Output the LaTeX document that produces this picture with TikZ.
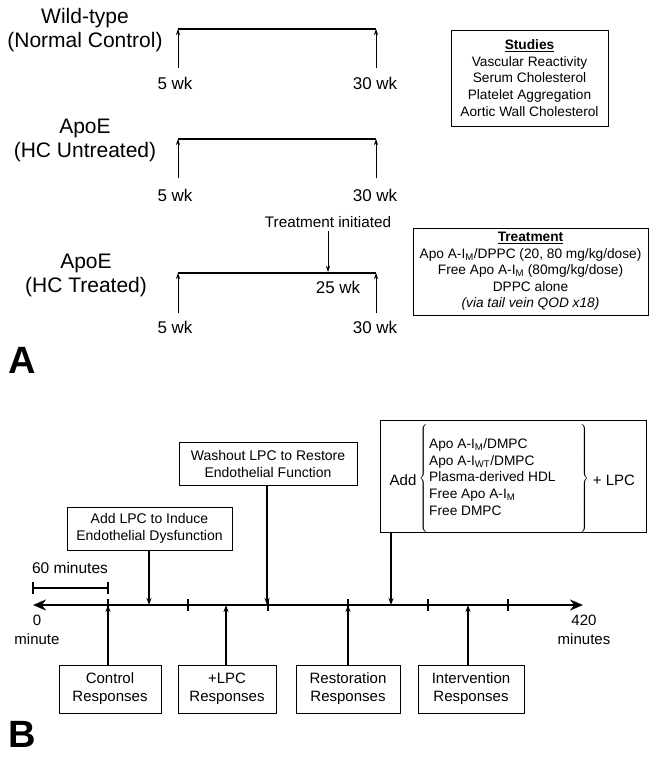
\documentclass[tikz,border=0pt]{standalone}
\usepackage{fontspec}
\setmainfont{Liberation Sans}
\usetikzlibrary{positioning,arrows.meta}

\begin{document}
\begin{tikzpicture}[x=1pt,y=-1pt,
    grp/.style={align=center,font=\fontsize{21}{24}\selectfont},
    wk/.style={font=\fontsize{17}{20}\selectfont},
    infobox/.style={draw,align=center,inner sep=0pt,
        font=\fontsize{13.7}{16.6}\selectfont},
    stepnote/.style={draw,align=center,inner sep=0pt,
        font=\fontsize{14}{17}\selectfont},
    resp/.style={draw,align=center,inner sep=0pt,minimum height=48pt,
        font=\fontsize{15}{18}\selectfont},
    period/.style={line width=1.4pt},
    thin arrow/.style={-{Stealth[length=6pt,width=4pt]},line width=0.7pt},
    event/.style={-{Stealth[length=7pt,width=5pt]},line width=1.4pt},
    axis/.style={{Stealth[length=13pt,width=11pt]}-{Stealth[length=13pt,width=11pt]},line width=2.6pt},
    curly/.style={inner sep=0pt,font=\fontsize{13.7}{16.6}\selectfont},
    panel/.style={inner sep=0pt,font=\fontsize{38}{38}\selectfont\bfseries}]
    \fill[white] (0,0) rectangle (654,757);
    \useasboundingbox (0,0) rectangle (654,757);

    % A: three groups of mice
    \node[grp] (wt) at (85,30) {Wild-type\\(Normal Control)};
    \node[grp] (hcu) at (85,140) {ApoE\\(HC Untreated)};
    \node[grp] (hct) at (86,275) {ApoE\\(HC Treated)};
    \foreach \n/\ly/\by/\ty in {1/29/68/83, 2/139/178/195, 3/273/313/327} {
        \coordinate (s\n) at (178,\ly);
        \coordinate (e\n) at (376,\ly);
        \coordinate (sb\n) at (178,\by);
        \coordinate (eb\n) at (376,\by);
        \draw[period] (s\n) -- (e\n);
        \draw[thin arrow] (sb\n) -- (s\n);
        \draw[thin arrow] (eb\n) -- (e\n);
        \node[wk] (five\n) at (175,\ty) {5 wk};
        \node[wk] (thirty\n) at (375,\ty) {30 wk};
    }
    \node[font=\fontsize{15.3}{18}\selectfont] (tinit) at (328,222) {Treatment initiated};
    \coordinate (w25) at (328,272);
    \draw[thin arrow] (tinit.south) -- (w25);
    \node[wk] (tw25) at (338,287) {25 wk};

    \node[infobox,minimum width=157pt,minimum height=96pt] (studies) at (529.5,78)
        {\underline{\textbf{Studies}}\\Vascular Reactivity\\Serum Cholesterol\\
         Platelet Aggregation\\Aortic Wall Cholesterol};
    \node[infobox,minimum width=235pt,minimum height=87pt] (treat) at (530.5,271.5)
        {\underline{\textbf{Treatment}}\\Apo A-I\textsubscript{M}/DPPC (20, 80 mg/kg/dose)\\
         Free Apo A-I\textsubscript{M} (80mg/kg/dose)\\DPPC alone\\
         \textit{(via tail vein QOD x18)}};
    \node[panel] (pa) at (22,360) {A};

    % B: the 420 minute protocol
    \coordinate (m0) at (33,605);
    \coordinate (m420) at (583,605);
    \coordinate (m60) at (108,605);
    \coordinate (m90) at (149,605);
    \coordinate (m150) at (226,605);
    \coordinate (m180) at (267,605);
    \coordinate (m240) at (348,605);
    \coordinate (m270) at (391,605);
    \coordinate (m330) at (468,605);
    \draw[axis] (m0) -- (m420);
    \foreach \x in {108,188,...,508}
        \draw[line width=1.4pt] (\x,599) -- (\x,611);

    \node[font=\fontsize{15.5}{18}\selectfont] (sixty) at (70,568) {60 minutes};
    \draw[line width=1.5pt] (33,582) -- (33,594) (108,582) -- (108,594) (33,588) -- (108,588);

    \node[font=\fontsize{15}{19}\selectfont,align=center] (zero) at (37,630) {0\\minute};
    \node[font=\fontsize{15}{19}\selectfont,align=center] (end) at (584,630) {420\\minutes};

    \node[stepnote,minimum width=165pt,minimum height=43pt] (lpcin) at (149.5,528.5)
        {Add LPC to Induce\\Endothelial Dysfunction};
    \node[stepnote,minimum width=178pt,minimum height=43pt] (wash) at (268,463.5)
        {Washout LPC to Restore\\Endothelial Function};
    \node[draw,minimum width=266pt,minimum height=112pt] (addbox) at (513,476) {};
    \node[font=\fontsize{15}{18}\selectfont] (addword) at (403,480) {Add};
    \node[anchor=west,align=left,inner sep=0pt,font=\fontsize{13.7}{16.6}\selectfont]
        (addlist) at (429,477)
        {Apo A-I\textsubscript{M}/DMPC\\
         Apo A-I\textsubscript{WT}/DMPC\\
         Plasma-derived HDL\\
         Free Apo A-I\textsubscript{M}\\
         Free DMPC};
    \node[font=\fontsize{15}{18}\selectfont] (pluslpc) at (614,480) {+ LPC};
    \node[curly] (lbrace) at (424,478) {$\left\{\rule[-50pt]{0pt}{100pt}\right.$};
    \node[curly] (rbrace) at (584,478) {$\left.\rule[-50pt]{0pt}{100pt}\right\}$};

    \draw[event] (lpcin.south -| m90) -- (m90);
    \draw[event] (wash.south -| m180) -- (m180);
    \draw[event] (addbox.south -| m270) -- (m270);

    \node[resp,minimum width=102pt] (ctrl) at (110,689) {Control\\Responses};
    \node[resp,minimum width=98pt] (plus) at (227,689) {+LPC\\Responses};
    \node[resp,minimum width=104pt] (rest) at (348,689) {Restoration\\Responses};
    \node[resp,minimum width=106pt] (inter) at (471,689) {Intervention\\Responses};

    \draw[event] (ctrl.north -| m60) -- (m60);
    \draw[event] (plus.north -| m150) -- (m150);
    \draw[event] (rest.north -| m240) -- (m240);
    \draw[event] (inter.north -| m330) -- (m330);

    \node[panel] (pb) at (22,734) {B};
\end{tikzpicture}
\end{document}
